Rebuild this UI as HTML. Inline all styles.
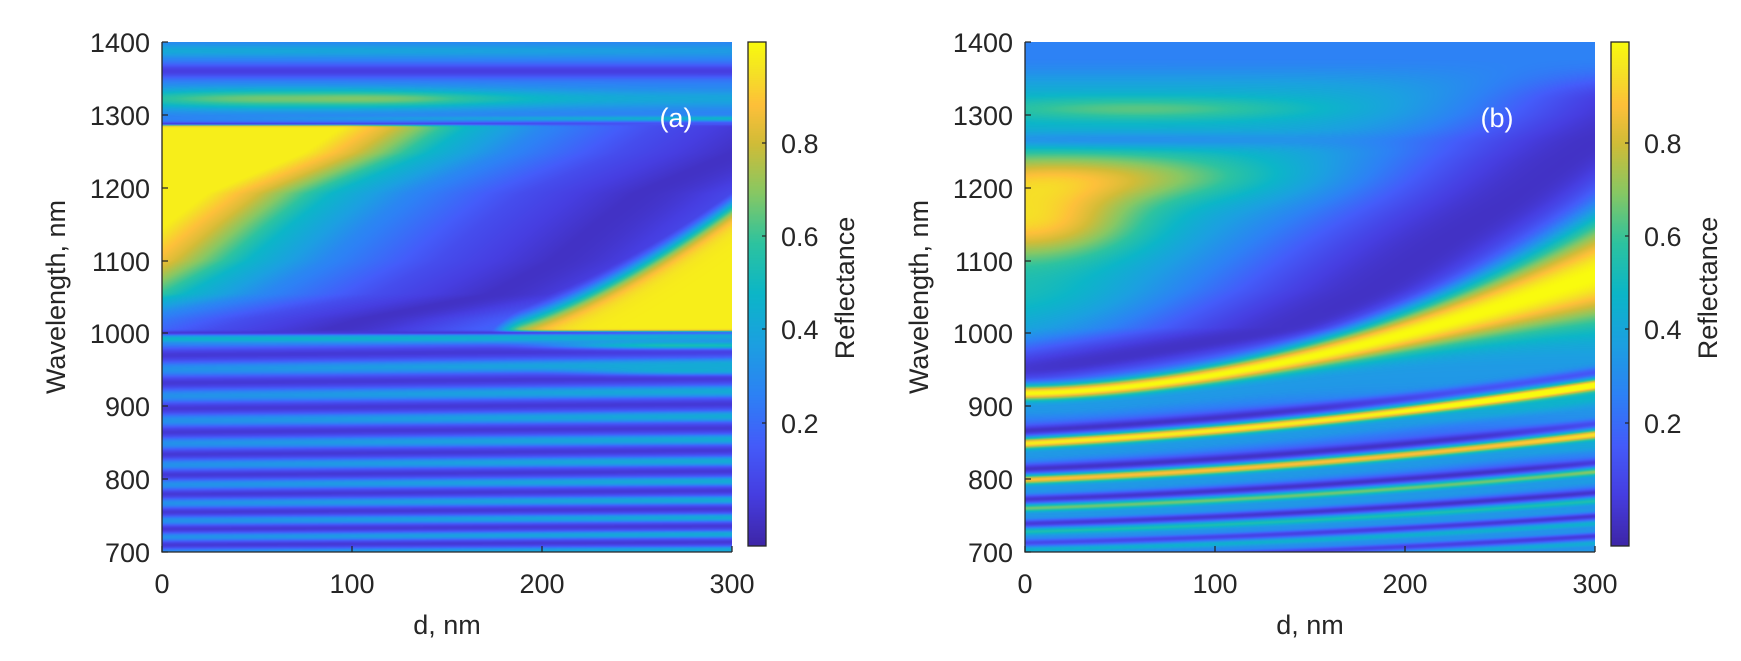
<!DOCTYPE html>
<html><head><meta charset="utf-8">
<style>
html,body{margin:0;padding:0;background:#fff;}
#wrap{position:relative;width:1741px;height:661px;overflow:hidden;background:#fff;}
canvas{position:absolute;}
svg{position:absolute;left:0;top:0;}
text{font-family:"Liberation Sans",Arial,sans-serif;fill:#262626;}
</style></head><body>
<div id="wrap">
<canvas id="ca" width="570" height="510" style="left:162px;top:42px"></canvas>
<canvas id="cb" width="570" height="510" style="left:1025px;top:42px"></canvas>
<canvas id="cba" width="18" height="504" style="left:748px;top:42px"></canvas>
<canvas id="cbb" width="18" height="504" style="left:1611px;top:42px"></canvas>
<svg width="1741" height="661" viewBox="0 0 1741 661">
<g stroke="#262626" stroke-width="1.3" fill="none">
<path d="M162,42V552H732"/>
<path d="M1025,42V552H1595"/>
<rect x="748" y="42" width="18" height="504"/>
<rect x="1611" y="42" width="18" height="504"/>
<path d="M162,552v-6M352,552v-6M542,552v-6M732,552v-6"/>
<path d="M1025,552v-6M1215,552v-6M1405,552v-6M1595,552v-6"/>
<path d="M162,42h6M162,115h6M162,188h6M162,261h6M162,333h6M162,406h6M162,479h6M162,552h6"/>
<path d="M1025,42h6M1025,115h6M1025,188h6M1025,261h6M1025,333h6M1025,406h6M1025,479h6M1025,552h6"/>
<path d="M766,143h-4M766,236h-4M766,329h-4M766,423h-4"/>
<path d="M1629,143h-4M1629,236h-4M1629,329h-4M1629,423h-4"/>
</g>
<g font-size="27" text-anchor="end">
<text x="150" y="52">1400</text><text x="150" y="125">1300</text><text x="150" y="198">1200</text><text x="150" y="271">1100</text><text x="150" y="343">1000</text><text x="150" y="416">900</text><text x="150" y="489">800</text><text x="150" y="562">700</text>
<text x="1013" y="52">1400</text><text x="1013" y="125">1300</text><text x="1013" y="198">1200</text><text x="1013" y="271">1100</text><text x="1013" y="343">1000</text><text x="1013" y="416">900</text><text x="1013" y="489">800</text><text x="1013" y="562">700</text>
</g>
<g font-size="27" text-anchor="middle">
<text x="162" y="593">0</text><text x="352" y="593">100</text><text x="542" y="593">200</text><text x="732" y="593">300</text>
<text x="1025" y="593">0</text><text x="1215" y="593">100</text><text x="1405" y="593">200</text><text x="1595" y="593">300</text>
<text x="447" y="634">d, nm</text><text x="1310" y="634">d, nm</text>
<text transform="translate(56,297) rotate(-90)" dy="9">Wavelength, nm</text>
<text transform="translate(919,297) rotate(-90)" dy="9">Wavelength, nm</text>
<text transform="translate(845,288) rotate(-90)" dy="9">Reflectance</text>
<text transform="translate(1708,288) rotate(-90)" dy="9">Reflectance</text>
<text x="676" y="127" style="fill:#fff">(a)</text>
<text x="1497" y="127" style="fill:#fff">(b)</text>
</g>
<g font-size="27">
<text x="781" y="153">0.8</text><text x="781" y="246">0.6</text><text x="781" y="339">0.4</text><text x="781" y="433">0.2</text>
<text x="1644" y="153">0.8</text><text x="1644" y="246">0.6</text><text x="1644" y="339">0.4</text><text x="1644" y="433">0.2</text>
</g>
</svg>
</div>
<script>
var CM=[[0,62,38,168],[0.1,70,62,225],[0.2,68,92,250],[0.3,45,130,245],[0.4,28,160,225],[0.5,12,182,200],[0.6,45,195,160],[0.7,135,200,100],[0.8,210,188,55],[0.875,254,192,58],[0.94,245,225,38],[1,249,251,14]];
function cmap(v){v=Math.max(0,Math.min(1,v));for(var i=1;i<CM.length;i++){if(v<=CM[i][0]){var a=CM[i-1],b=CM[i],t=(v-a[0])/(b[0]-a[0]);return[a[1]+(b[1]-a[1])*t,a[2]+(b[2]-a[2])*t,a[3]+(b[3]-a[3])*t];}}return[249,251,14];}
function interp(xs,ys,x){if(x<=xs[0])return ys[0]+(x-xs[0])*(ys[1]-ys[0])/(xs[1]-xs[0]);for(var i=1;i<xs.length;i++){if(x<=xs[i]){var t=(x-xs[i-1])/(xs[i]-xs[i-1]);return ys[i-1]+(ys[i]-ys[i-1])*t;}}var n=xs.length;return ys[n-1]+(x-xs[n-1])*(ys[n-1]-ys[n-2])/(xs[n-1]-xs[n-2]);}
function clampI(xs,ys,x){if(x<=xs[0])return ys[0];if(x>=xs[xs.length-1])return ys[ys.length-1];return interp(xs,ys,x);}
function G(x){return Math.exp(-x*x);}
function sm(x){return x<0?0:(x>1?1:x*x*(3-2*x));}
function sig(x){return 1/(1+Math.exp(-x));}
var PU=[0,60,120,160,200,225],PV=[0.05,0.15,0.32,0.5,0.82,0.97];
function A(d,L){
 var v;
 if(L>=1000){
  var g=interp([1000,1020,1054,1100,1150,1192,1248,1300],[80,105,172,205,228,249,300,330],L);
  var u=d-g;
  if(u<0){v=clampI(PU,PV,-u);}
  else{v=0.05+0.25*(1-Math.exp(-(u/80)*(u/80)));}
  if(d>160){
   var Ly=1000+175*Math.pow((d-160)/140,1.5);
   var y2=0.97*sig((Ly-L)/10)*sm((d-160)/30);
   if(y2>v)v=y2;
  }
  if(L>1286){
   var t=0.3+0.38*G((d-60)/110)*G((L-1322)/14)+0.12*G((L-1322)/12)*sm((d-60)/80)-0.2*G((L-1360)/10)+0.14*G((L-1388)/9)*(1-0.4*d/300);
   var b=sm((L-1284)/8);v=v*(1-b)+t*b;
  }
  var m1=G((L-1295)/3);v=v*(1-m1)+(0.3+0.2*d/300)*m1;
  var m2=G((L-1288)/2.5);v=v*(1-m2)+(0.08+0.1*d/300)*m2;
 } else {
  var ph=23800/L+0.0006*d;
  var s=Math.cos(2*Math.PI*(ph-1.036));
  v=0.215+0.135*s+0.1*(d/300)*Math.max(s,0);
  v+=0.4*G((L-983)/5)*sm((d-170)/100);
  v+=0.22*G((L-947)/5)*sm((d-190)/90);
  v+=0.15*G((L-993)/4)*(1-d/300);
 }
 var m3=G((L-1001)/2.5);v=v*(1-m3)+(0.08+0.15*sm((d-150)/150))*m3;
 return v;
}
var B0=[918,849,799,760,728,703,680],BA=[162,80,62,50,42,36,32],BAm=[0.75,0.72,0.62,0.42,0.3,0.22,0.2],BS=[10,7.5,6.5,5.5,5,4.5,4.5];
function B(d,L){
 var x=d/300,p=Math.pow(x,1.7),q=0.5*x+0.5*x*x;
 var g=interp([900,945,980,1008,1060,1123,1180,1238,1300,1400],[-50,0,80,144,185,220,255,287,330,380],L);
 var u=d-g,T;
 if(u<0)T=0.05+0.42*(1-Math.exp(-(u/110)*(u/110)));else T=0.05+0.25*(1-Math.exp(-(u/60)*(u/60)));
 T+=0.45*G(d/60)*G((L-1155)/55)+0.3*G((d-30)/100)*G((L-1215)/35)+0.18*G((d-60)/90)*G((L-1308)/16)-0.16*G((d-40)/120)*G((L-1265)/12)+0.08*G(d/60)*G((L-1050)/40);
 if(L>1320){var f=sm((L-1320)/60);T=T*(1-f)+0.3*f;}
 var Lc0=B0[0]+BA[0]*p,s0=BS[0]+60*x*x*x;
 var wA=1/(1+Math.exp(-(L-Lc0-s0-8)/6));
 var v=wA*T+(1-wA)*0.25;
 for(var i=0;i<B0.length;i++){
  var s=i==0?s0:BS[i];var Lc=B0[i]+BA[i]*(i==0?p:q);
  var z=(L-Lc)/s;
  if(i==0&&z>0)z=z*0.9;
  v+=BAm[i]*G(z);
  if(i>0)v-=0.2*G((L-Lc-2.3*s)/s);
  v+=0.12*G((L-Lc+2.3*s)/(1.3*s));
 }
 return v;
}
function draw(id,f){
 var c=document.getElementById(id),ctx=c.getContext('2d'),W=c.width,H=c.height,im=ctx.createImageData(W,H),D=im.data;
 for(var y=0;y<H;y++){var L=1400-(y+0.5)*700/H;for(var x=0;x<W;x++){var d=(x+0.5)*300/W;var col=cmap(f(d,L));var k=(y*W+x)*4;D[k]=col[0];D[k+1]=col[1];D[k+2]=col[2];D[k+3]=255;}}
 ctx.putImageData(im,0,0);
}
draw('ca',A);draw('cb',B);
function bar(id){var c=document.getElementById(id),ctx=c.getContext('2d');for(var y=0;y<504;y++){var col=cmap(1-y/503);ctx.fillStyle='rgb('+(col[0]|0)+','+(col[1]|0)+','+(col[2]|0)+')';ctx.fillRect(0,y,18,1);}}
bar('cba');bar('cbb');
</script>
</body></html>
